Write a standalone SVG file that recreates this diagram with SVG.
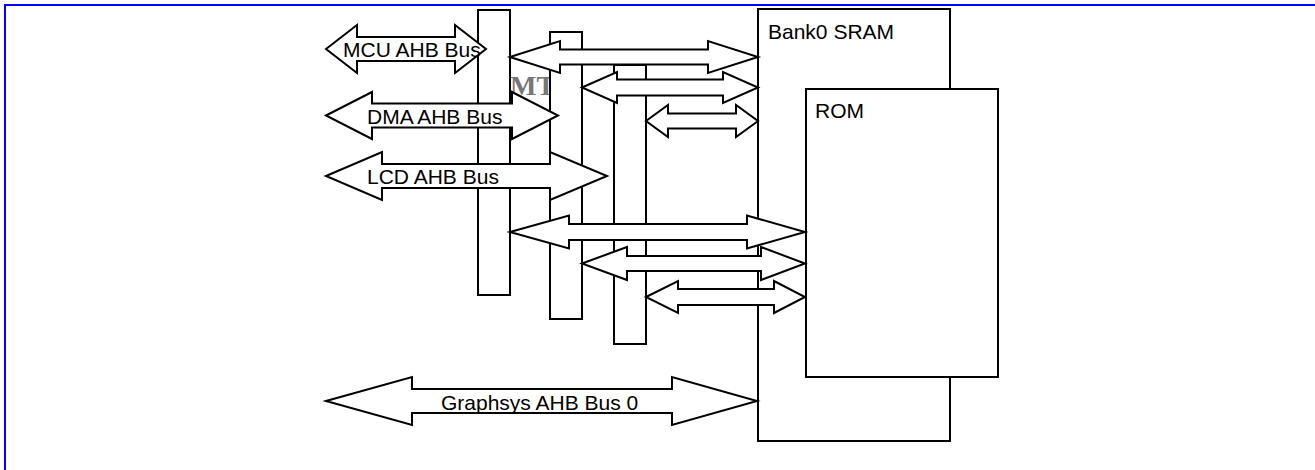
<svg xmlns="http://www.w3.org/2000/svg" width="1315" height="470" viewBox="0 0 1315 470">
<style>
.box{fill:#fff;stroke:#000;stroke-width:2}
.arr{fill:#fff;stroke:#000;stroke-width:2;stroke-linejoin:miter}
.lbl{font-family:"Liberation Sans",Arial,sans-serif;font-size:21px;fill:#000}
.wm{font-family:"Liberation Serif","Times New Roman",serif;font-size:28px;font-weight:bold;fill:#777}
</style>
<rect width="1315" height="470" fill="#fff"/>
<path d="M5,470 V5 H1315" fill="none" stroke="#0000ff" stroke-width="2"/>
<text class="wm" x="510" y="95">MT</text>
<g id="bar1"><rect class="box" x="478" y="10" width="32" height="285"/></g>
<g id="bar2"><rect class="box" x="550" y="32" width="32" height="287"/></g>
<g id="bar3"><rect class="box" x="614" y="65" width="32" height="279"/></g>
<g id="sram"><rect class="box" x="758" y="9" width="192" height="432"/><text class="lbl" x="768" y="39">Bank0 SRAM</text></g>
<g id="rom"><rect class="box" x="806" y="89" width="192" height="288"/><text class="lbl" x="815" y="118">ROM</text></g>
<g id="connectors">
<polygon class="arr" points="510,57 560,41 560,49.5 708,49.5 708,41 758,57 708,73 708,64.5 560,64.5 560,73"/>
<polygon class="arr" points="582,87.5 617,72 617,79.5 723,79.5 723,72 758,87.5 723,103 723,95.5 617,95.5 617,103"/>
<polygon class="arr" points="646,121 668,105 668,113.5 736,113.5 736,105 758,121 736,137 736,128.5 668,128.5 668,137"/>
<polygon class="arr" points="510,232 569,215.5 569,224 747,224 747,215.5 805,232 747,248.5 747,240 569,240 569,248.5"/>
<polygon class="arr" points="582,263.5 627,247 627,256 761,256 761,247 805,263.5 761,280 761,271 627,271 627,280"/>
<polygon class="arr" points="646,297 678,281 678,289 774,289 774,281 805,297 774,313 774,305 678,305 678,313"/>
</g>
<g id="mcu"><polygon class="arr" points="326,49 357,25 357,37 455,37 455,25 486,49 455,73 455,61 357,61 357,73"/><text class="lbl" x="343" y="57">MCU AHB Bus</text></g>
<g id="dma"><polygon class="arr" points="326,115.5 372,92 372,103.5 512,103.5 512,92 558,115.5 512,139 512,127.5 372,127.5 372,139"/><text class="lbl" x="367" y="124">DMA AHB Bus</text></g>
<g id="lcd"><polygon class="arr" points="326,176 382,152 382,164 550,164 550,152 607,176 550,200 550,188 382,188 382,200"/><text class="lbl" x="367" y="184">LCD AHB Bus</text></g>
<g id="graphsys"><polygon class="arr" points="326,401 412,377 412,389 672,389 672,377 757,401 672,425 672,413 412,413 412,425"/><text class="lbl" x="441" y="410">Graphsys AHB Bus 0</text></g>
</svg>
